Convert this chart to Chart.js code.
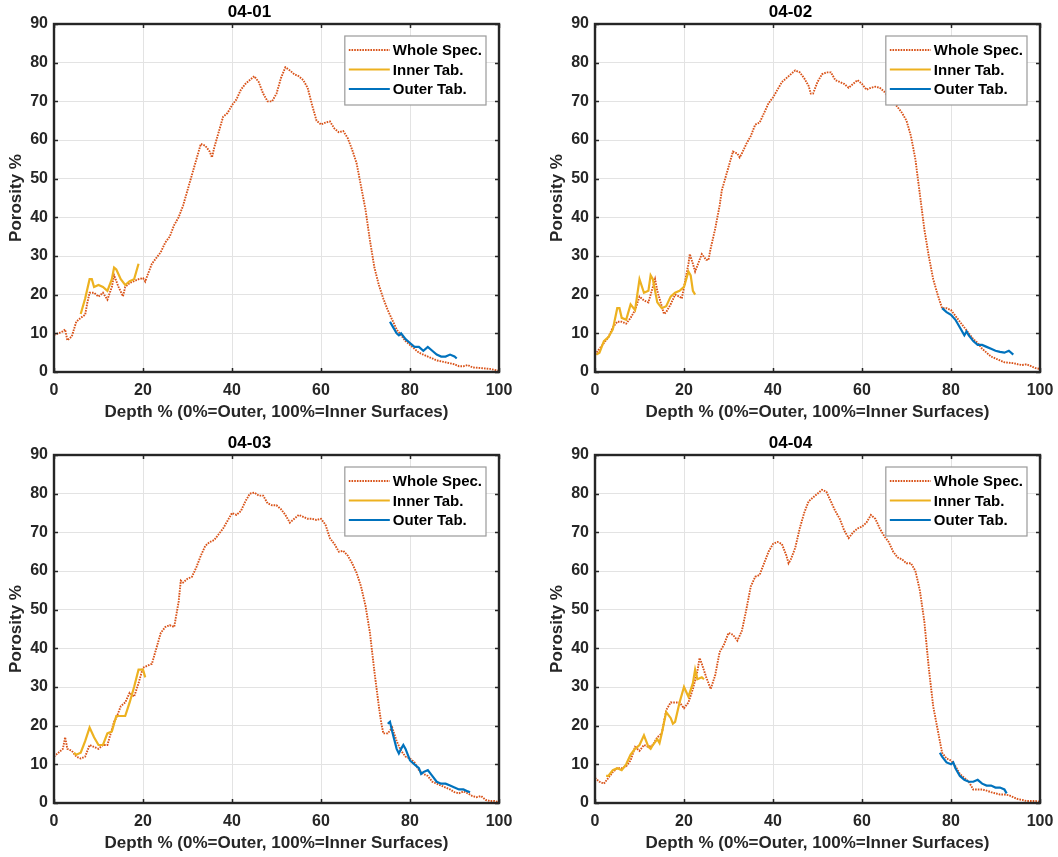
<!DOCTYPE html>
<html>
<head>
<meta charset="utf-8">
<script src="https://cdn.jsdelivr.net/npm/chart.js@4.4.1/dist/chart.umd.min.js"></script>
<style>
html, body { margin: 0; padding: 0; background: #ffffff; overflow: hidden; width: 1058px; height: 857px; }
canvas { position: absolute; }
</style>
</head>
<body>
<canvas id="c1" width="553" height="431" style="left:0px;top:0px"></canvas>
<canvas id="c2" width="553" height="431" style="left:541px;top:0px"></canvas>
<canvas id="c3" width="553" height="431" style="left:0px;top:431px"></canvas>
<canvas id="c4" width="553" height="431" style="left:541px;top:431px"></canvas>
<script>
// ---------------- DATA ----------------
const panelTitles = ['04-01', '04-02', '04-03', '04-04'];
const seriesLabels = ['Whole Spec.', 'Inner Tab.', 'Outer Tab.'];
const xAxisTitle = 'Depth % (0%=Outer, 100%=Inner Surfaces)';
const yAxisTitle = 'Porosity %';
const xRange = [0, 100];
const xStep = 20;
const yRange = [0, 90];
const yStep = 10;

// 04-01
const whole01X = [0,1,2,2.5,3,4,5,6,7,7.5,8,9,10,11,12,13,13.5,14.5,15.5,16,17,18,19,20,20.5,21,22,23,24,25,26,27,28,29,30,31,32,33,34,35,35.5,36,37,38,39,40,41,42,43,44,45,46,47,48,49,50,51,52,53,54,55,56,57,58,59,60,61,62,63,64,65,66,67,68,69,70,71,72,73,74,75,76,77,78,79,80,81,82,83,84,85,86,88,90,91,92,93,94,96,98,100];
const whole01Y = [9.6,10,10.5,11,8.2,9.2,13,14,14.8,18,20.5,20.5,19.5,20.5,18.7,22,25,22,19.6,22,23,23.5,24,24.3,23.4,25,28,29.5,31,33.5,35,38,40,43,47,51,55,59,58.5,57,55.5,58,62,66,67,69,70.5,73,74.5,75.5,76.5,75,72,70,70,72,76,78.8,78,77,76.5,75.5,73.5,69,65,64,64.5,64.8,63,62,62.3,60.5,57.5,54,48,42,34,27,22.5,19,16,13.5,11,9.5,8,7,6,5,4.5,4,3.5,3,2.5,2,1.5,1.5,1.8,1.2,1,0.8,0.3];
const inner01X = [6,7,8,8.5,9,10,11,12,13,13.5,14,15,16,17,18,18.5,19];
const inner01Y = [15,19,24,24,22,22.5,22,21,24,27,26.5,24,22.5,23.5,24,26,28];
const outer01X = [75.5,76,77,77.5,78,79,80,81,82,83,84,85,86,87,88,89,90,90.5];
const outer01Y = [13,12,10,9.5,10,8.5,7.5,6.5,6.5,5.5,6.5,5.5,4.5,4,4,4.5,4,3.5];

// 04-02
const whole02X = [0,1,2,3,4,5,6,7,8,9,10,11,12,13,13.5,14,15,15.5,16,17,18,19,19.5,20,21,21.3,22,22.5,23,24,25,25.5,26,27,28,28.5,29,30,31,32,32.5,33,34,35,36,37,38,39,40,41,42,43,44,45,46,47,48,48.5,49,50,51,52,53,54,55,56,57,58,59,60,61,62,63,64,65,66,67,68,69,70,71,72,73,74,75,76,77,78,79,80,81,82,83,84,85,86,87,88,89,90,91,92,94,95,96,97,98,99,100];
const whole02Y = [4.5,6,7.5,9,11.5,13,13,12.5,14,16,19.5,18.5,18,22,24,21,17,15,15.5,17.5,20,19.5,19,22,28,30.5,28,26,27.5,30.5,29,29,32,37,43,47,49,53,57,56.5,55.5,56.5,59,61,64,64.5,67,69.5,71,73,75,76,77,78,77.5,76,74,72,72,75,77,77.5,77.5,75.5,75,74.5,73.5,74.5,75.5,74.5,73,73.5,73.8,73.5,72.5,71,70,68.5,67,65,61,55,46,37,30,24,20,16.5,16.5,16,14.5,13,11.5,10,8.5,7.5,6,5,4,3.5,3,2.5,2.3,2,1.8,2,1.5,1,0.8];
const inner02X = [0.3,1,2,3,4,5,5.5,6,7,8,9,10,11,12,12.5,13,14,15,16,17,18,19,20,21,21.5,22,22.5];
const inner02Y = [4.5,5,8,9,11,16.5,16.5,14,13.5,17.5,16,24,20.5,21,25,24,18,16.5,17,19.5,20.5,21,22,26,25,21,20];
const outer02X = [78,79,80,81,82,83,83.5,84,85,86,87,88,89,90,91,92,93,94];
const outer02Y = [16.5,15.5,14.8,13.5,11.5,9.5,10.5,9.5,8,7,7,6.5,6,5.5,5.2,5,5.5,4.5];

// 04-03
const whole03X = [0,1,2,2.5,3,4,5,6,7,8,9,10,11,12,13,13.5,14,15,16,17,18,19,20,21,22,23,24,25,26,27,28,28.5,29,30,31,32,33,34,35,36,37,38,39,40,41,42,43,44,45,46,47,48,49,50,51,52,53,54,55,56,57,58,59,60,61,62,63,64,65,66,67,68,69,70,71,72,73,73.5,74,75,76,77,78,79,80,81,82,83,84,85,86,87,88,89,90,91,92,93,94,95,96,97,98,99,100];
const whole03Y = [12,13,14,17,14,13.5,12,11.5,12,15,14.5,14,15,15,19,21,22,25,26,28.5,27.5,31,35,35.5,36,40,44,45.5,46,45.5,52,57.5,57,58,58.5,61,64,66.5,67.5,68,69.5,71,73,75,74.5,75.5,78,80,80.3,79.5,79.5,77.5,77,77,76,74.5,72.5,73.5,74.5,74,73.5,73.5,73.2,73.5,72,68.5,67,65,65.2,64,62,59.5,56,51,44,34,25,21,18,18,19.5,16,13.5,12,11.5,10.5,8.5,7.5,7,5.5,5,4.5,4,3.5,2.8,2.5,3,2.5,1.8,1.5,1.8,0.8,0.5,0.5,0.2];
const inner03X = [4.5,5,6,7,8,9,10,11,12,13,14,15,16,17,18,19,20,20.5];
const inner03Y = [13,12.5,13,16,19.5,17,15,15,18,18.5,22.5,22.5,22.5,26,30,34.5,34.5,32.5];
const outer03X = [75,75.5,76,77,77.5,78,78.5,79,80,81,82,82.5,83,84,85,86,87,88,89,90,91,92,93,93.5];
const outer03Y = [20.5,21,18.5,14,12.8,14,15,14,11,10,9,7.5,8,8.5,7,5.5,5,5,4.5,4,3.5,3.5,3,2.8];

// 04-04
const whole04X = [0,1,2,3,4,5,6,7,8,9,10,11,12,13,14,15,16,17,18,19,20,21,22,23,23.5,24,25,26,27,28,29,30,31,32,33,34,35,36,37,38,39,40,41,42,43,43.5,44,45,46,47,48,49,50,51,52,53,54,55,56,57,58,59,60,61,62,63,64,65,66,67,68,69,70,71,72,73,74,75,76,77,78,79,80,81,82,83,84,85,86,87,88,89,90,91,92,93,94,95,96,97,98,99,100];
const whole04Y = [6.5,5.5,5,6.5,8,9,9,9.5,11,14.5,13.5,15,14.5,15,17,18,24,26,26,26,24.5,26,29.5,34,37.5,36,32.5,29.5,33,39,41,44,43.5,42,44.5,50,56,58.5,59,62,65,67,67.5,67,64,62,63,66,71,75,78,79,80,81,80.5,78,75.5,73.5,70.5,68.5,70,71,71.5,72.5,74.5,73.5,71,69,67.5,65,63.5,63,62,62,60,55,47,35,25,19,13,11.5,11,9.5,7.5,6.5,5.5,3.5,3.5,3.5,3.2,2.8,2.5,2.2,2.2,2,1.5,1,0.8,0.5,0.5,0.5,0.3];
const inner04X = [2.5,3,4,5,6,7,8,9,10,11,12,12.5,13,14,14.5,15,16,17,17.5,18,19,20,21,22,22.5,23,24,24.5];
const inner04Y = [7,7,8.5,9,8.5,10,12.5,14,15,17.5,14.5,14,15,16.5,15.5,18,23.5,22,20.5,21,26,30,27.5,31,34.5,32,32.5,32];
const outer04X = [77.5,78,79,80,80.5,81,82,83,84,85,86,87,88,89,90,91,92,92.5];
const outer04Y = [13,12,10.5,10,10.5,9,7,6,5.5,5.5,6,5,4.5,4.5,4,4,3.5,2.5];

// ---------------- STYLE ----------------
const FONT = "'Liberation Sans', Arial, Helvetica, sans-serif";
const seriesColors = ['#D95319', '#EDB120', '#0072BD'];
const seriesWidths = [1.9, 2.2, 2.2];
const seriesDash = [[1.6, 1.1], [], []];
Chart.defaults.font.family = FONT;
Chart.defaults.color = '#262626';

function toPoints(xs, ys) {
  const n = Math.min(xs.length, ys.length);
  const out = [];
  for (let i = 0; i < n; i++) out.push({ x: xs[i], y: ys[i] });
  return out;
}

const panels = [
  { id: 'c1', title: panelTitles[0], series: [[whole01X, whole01Y], [inner01X, inner01Y], [outer01X, outer01Y]] },
  { id: 'c2', title: panelTitles[1], series: [[whole02X, whole02Y], [inner02X, inner02Y], [outer02X, outer02Y]] },
  { id: 'c3', title: panelTitles[2], series: [[whole03X, whole03Y], [inner03X, inner03Y], [outer03X, outer03Y]] },
  { id: 'c4', title: panelTitles[3], series: [[whole04X, whole04Y], [inner04X, inner04Y], [outer04X, outer04Y]] }
];

// Frame with inward ticks on all sides + boxed legend (MATLAB look)
const matlabAxes = {
  id: 'matlabAxes',
  afterDatasetsDraw(chart) {
    const ctx = chart.ctx;
    const a = chart.chartArea;
    const xs = chart.scales.x, ys = chart.scales.y;
    const tl = 4;
    ctx.save();
    ctx.strokeStyle = '#262626';
    ctx.lineWidth = 1.5;
    ctx.beginPath();
    xs.ticks.forEach(t => {
      const px = Math.round(xs.getPixelForValue(t.value)) + 0.5;
      ctx.moveTo(px, a.bottom); ctx.lineTo(px, a.bottom - tl);
      ctx.moveTo(px, a.top); ctx.lineTo(px, a.top + tl);
    });
    ys.ticks.forEach(t => {
      const py = Math.round(ys.getPixelForValue(t.value)) + 0.5;
      ctx.moveTo(a.left, py); ctx.lineTo(a.left + tl, py);
      ctx.moveTo(a.right, py); ctx.lineTo(a.right - tl, py);
    });
    ctx.stroke();
    ctx.lineWidth = 2.4;
    ctx.strokeRect(a.left, a.top, a.right - a.left, a.bottom - a.top);

    // legend
    const ds = chart.data.datasets;
    ctx.font = 'bold 15px ' + FONT;
    let maxW = 0;
    ds.forEach(d => { maxW = Math.max(maxW, ctx.measureText(d.label).width); });
    const sampleLeft = 4, sampleLen = 41, gap = 3, padR = 4;
    const rowH = 19.5, firstRow = 14;
    const boxW = sampleLeft + sampleLen + gap + maxW + padR;
    const boxH = firstRow * 2 + rowH * (ds.length - 1) + 2;
    const bx = a.right - 13 - boxW;
    const by = a.top + 12;
    ctx.fillStyle = '#ffffff';
    ctx.fillRect(bx, by, boxW, boxH);
    ctx.lineWidth = 1.2;
    ctx.strokeStyle = '#9a9a9a';
    ctx.strokeRect(bx, by, boxW, boxH);
    ds.forEach((d, i) => {
      const cy = by + firstRow + i * rowH;
      ctx.save();
      ctx.strokeStyle = d.borderColor;
      ctx.lineWidth = d.borderWidth;
      ctx.setLineDash(d.borderDash || []);
      ctx.beginPath();
      ctx.moveTo(bx + sampleLeft, cy);
      ctx.lineTo(bx + sampleLeft + sampleLen, cy);
      ctx.stroke();
      ctx.restore();
      ctx.fillStyle = '#000000';
      ctx.textBaseline = 'middle';
      ctx.textAlign = 'left';
      ctx.fillText(d.label, bx + sampleLeft + sampleLen + gap, cy + 1);
    });
    ctx.restore();
  }
};

panels.forEach(p => {
  const datasets = p.series.map((s, i) => ({
    label: seriesLabels[i],
    data: toPoints(s[0], s[1]),
    borderColor: seriesColors[i],
    backgroundColor: seriesColors[i],
    borderWidth: seriesWidths[i],
    borderDash: seriesDash[i],
    pointRadius: 0,
    tension: 0,
    fill: false,
    order: 3 - i
  }));
  new Chart(document.getElementById(p.id), {
    type: 'line',
    data: { datasets: datasets },
    options: {
      responsive: false,
      animation: false,
      devicePixelRatio: window.devicePixelRatio || 1,
      layout: { padding: { left: 0, right: 54, top: 0, bottom: 0 } },
      plugins: {
        legend: { display: false },
        tooltip: { enabled: false },
        title: {
          display: true,
          text: p.title,
          color: '#000000',
          font: { size: 17, weight: 'bold', family: FONT },
          padding: { top: 2, bottom: 1.6 }
        }
      },
      scales: {
        x: {
          type: 'linear',
          min: xRange[0], max: xRange[1],
          afterFit: s => { s.height = 59; },
          border: { display: false },
          grid: { color: '#e3e3e3', lineWidth: 1, drawTicks: false },
          ticks: { stepSize: xStep, padding: 9, color: '#262626', font: { size: 16, weight: 'bold', family: FONT }, maxRotation: 0 },
          title: { display: true, text: xAxisTitle, color: '#262626', font: { size: 17, weight: 'bold', family: FONT }, padding: { top: 0, bottom: 8 } }
        },
        y: {
          type: 'linear',
          min: yRange[0], max: yRange[1],
          afterFit: s => { s.width = 54; },
          border: { display: false },
          grid: { color: '#e3e3e3', lineWidth: 1, drawTicks: false },
          ticks: { stepSize: yStep, padding: 6, color: '#262626', font: { size: 16, weight: 'bold', family: FONT } },
          title: { display: true, text: yAxisTitle, color: '#262626', font: { size: 17, weight: 'bold', family: FONT }, padding: { top: 6, bottom: 0 } }
        }
      }
    },
    plugins: [matlabAxes]
  });
});
</script>
</body>
</html>
